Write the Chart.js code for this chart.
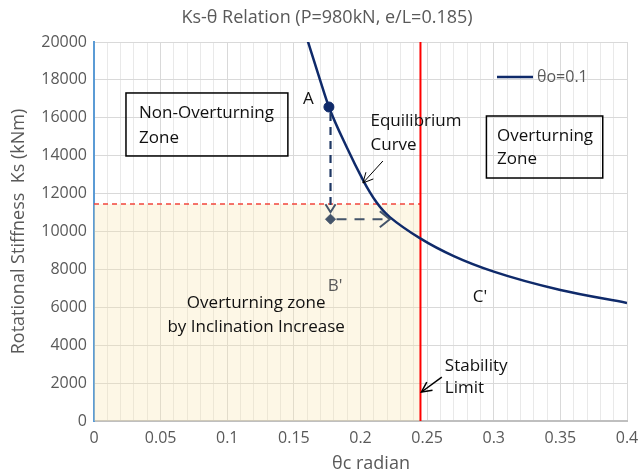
<!DOCTYPE html>
<html>
<head>
<meta charset="utf-8">
<script src="https://cdn.jsdelivr.net/npm/chart.js@4.4.1/dist/chart.umd.min.js"></script>
<style>
  html, body { margin: 0; padding: 0; background: #fff; }
</style>
</head>
<body>
<canvas id="myChart" width="640" height="475"></canvas>
<script>
// Equilibrium curve for theta_o = 0.1
var thetaC = [0.16, 0.1695, 0.1763, 0.1895, 0.202, 0.207, 0.212, 0.217, 0.222, 0.2445, 0.27, 0.3, 0.35, 0.4];
var ksCurve = [20150, 18030, 16570, 14470, 12700, 12080, 11540, 11100, 10760, 9650, 8700, 7880, 6910, 6230];

// Point A on the curve and the point B it drops to
var pointA = [0.1763, 16570];
var pointB = [0.1775, 10650];
var arrowEndTheta = 0.222;

// Stability limit and the stiffness where it meets the curve
var limitTheta = 0.245;
var criticalKs = 11450;

var xTickLabels = ['0', '0.05', '0.1', '0.15', '0.2', '0.25', '0.3', '0.35', '0.4'];
var yTickLabels = ['0', '2000', '4000', '6000', '8000', '10000', '12000', '14000', '16000', '18000', '20000'];

var FONT = "'Open Sans', sans-serif";
var GREY = '#595959';
var NAVY = '#0f2a6a';

function pts(xs, ys) {
    return xs.map(function (v, i) { return { x: v, y: ys[i] }; });
}

// hundredths of theta, so 0.05 steps can be picked out
function hundredths(v) { return Math.round(v * 100); }

function chevron(ctx, tx, ty, dx, dy, len, half) {
    // open arrow head pointing along (dx, dy), tip at (tx, ty)
    var n = Math.sqrt(dx * dx + dy * dy);
    var ux = dx / n, uy = dy / n;
    ctx.beginPath();
    ctx.moveTo(tx - ux * len - uy * half, ty - uy * len + ux * half);
    ctx.lineTo(tx, ty);
    ctx.lineTo(tx - ux * len + uy * half, ty - uy * len - ux * half);
    ctx.stroke();
}

var annotations = {
    id: 'annotations',
    afterDatasetsDraw: function (chart) {
        var ctx = chart.ctx;
        var x = chart.scales.x, y = chart.scales.y;
        var px = function (v) { return x.getPixelForValue(v); };
        var py = function (v) { return y.getPixelForValue(v); };
        ctx.save();

        // dashed drop from A down to B
        ctx.strokeStyle = '#1f3864';
        ctx.lineWidth = 2.2;
        ctx.setLineDash([8, 6]);
        ctx.beginPath();
        ctx.moveTo(px(pointB[0]), py(pointA[1]) + 6);
        ctx.lineTo(px(pointB[0]), py(pointB[1]) - 8);
        ctx.stroke();
        ctx.setLineDash([]);
        ctx.strokeStyle = '#44546a';
        ctx.lineWidth = 2;
        chevron(ctx, px(pointB[0]), py(pointB[1]) - 7, 0, 1, 8, 5);

        // dashed push from B towards the curve
        ctx.setLineDash([10, 8]);
        ctx.beginPath();
        ctx.moveTo(px(pointB[0]) + 6, py(pointB[1]));
        ctx.lineTo(px(arrowEndTheta), py(pointB[1]));
        ctx.stroke();
        ctx.setLineDash([]);
        chevron(ctx, px(arrowEndTheta), py(pointB[1]), 1, 0, 10, 8);

        // thin pointer arrows
        ctx.strokeStyle = '#000';
        ctx.lineWidth = 1;
        ctx.beginPath();
        ctx.moveTo(px(0.2168), py(13720));
        ctx.lineTo(px(0.2018), py(12560));
        ctx.stroke();
        chevron(ctx, px(0.2018), py(12560), px(0.2018) - px(0.2168), py(12560) - py(13720), 10, 5);
        ctx.lineWidth = 1.5;
        ctx.beginPath();
        ctx.moveTo(px(0.261), py(2320));
        ctx.lineTo(px(limitTheta) + 1, py(1530));
        ctx.stroke();
        chevron(ctx, px(limitTheta) + 1, py(1530), px(limitTheta) - px(0.261), py(1530) - py(2320), 10, 5);

        // zone boxes
        ctx.lineWidth = 1.5;
        ctx.strokeStyle = '#000';
        ctx.strokeRect(px(0.024), py(17310), px(0.1455) - px(0.024), py(13985) - py(17310));
        ctx.strokeRect(px(0.2945), py(16095), px(0.3818) - px(0.2945), py(12823) - py(16095));

        // notes
        ctx.font = '17px ' + FONT;
        ctx.textBaseline = 'alphabetic';
        ctx.fillStyle = '#111';
        ctx.textAlign = 'left';
        var note = function (lines, tx, ty, gap) {
            lines.forEach(function (s, i) { ctx.fillText(s, px(tx), py(ty) + i * gap); });
        };
        note(['Non-Overturning', 'Zone'], 0.0338, 15990, 25);
        note(['Overturning', 'Zone'], 0.3025, 14775, 23);
        note(['Equilibrium', 'Curve'], 0.2075, 15570, 24);
        note(['Stability', 'Limit'], 0.2633, 2660, 22);
        note(['A'], 0.1568, 16725, 0);
        note(["C'"], 0.2843, 6280, 0);
        ctx.fillStyle = GREY;
        note(["B'"], 0.1755, 6860, 0);
        ctx.fillStyle = '#111';
        ctx.textAlign = 'center';
        note(['Overturning zone', 'by Inclination Increase'], 0.1217, 5963, 23.5);

        // legend for the curve
        ctx.strokeStyle = NAVY;
        ctx.lineWidth = 2.5;
        ctx.beginPath();
        ctx.moveTo(497, 77);
        ctx.lineTo(533, 77);
        ctx.stroke();
        ctx.font = '16px ' + FONT;
        ctx.fillStyle = GREY;
        ctx.textAlign = 'left';
        ctx.textBaseline = 'middle';
        ctx.fillText('\u03b8o=0.1', 537, 77);

        ctx.restore();
    },
    afterDraw: function (chart) {
        var ctx = chart.ctx;
        var a = chart.chartArea;
        ctx.save();
        ctx.fillStyle = GREY;
        ctx.textAlign = 'center';
        ctx.textBaseline = 'middle';
        ctx.font = '18px ' + FONT;
        ctx.fillText('Ks-\u03b8 Relation (P=980kN, e/L=0.185)', 327, 18);
        ctx.fillText('\u03b8c radian', 371, 464);
        ctx.translate(19, (a.top + a.bottom) / 2);
        ctx.rotate(-Math.PI / 2);
        ctx.fillText('Rotational Stiffness  Ks (kNm)', 0, 0);
        ctx.restore();
    }
};

Chart.defaults.font.family = FONT;

var ctx = document.getElementById('myChart');

new Chart(ctx, {
    type: 'line',
    data: {
        datasets: [{
            // theta_o = 0.1 curve
            data: pts(thetaC, ksCurve),
            borderColor: NAVY,
            borderWidth: 2.5,
            pointRadius: 0,
            cubicInterpolationMode: 'monotone',
            fill: false,
            clip: 0,
            order: 3
        }, {
            data: [{ x: pointA[0], y: pointA[1] }],
            showLine: false,
            pointRadius: 5,
            pointBackgroundColor: NAVY,
            pointBorderColor: NAVY,
            order: 1
        }, {
            data: [{ x: pointB[0], y: pointB[1] }],
            showLine: false,
            pointStyle: 'rectRot',
            pointRadius: 5,
            pointBackgroundColor: '#44546a',
            pointBorderColor: '#44546a',
            order: 1
        }, {
            // critical stiffness line and the shaded zone under it
            data: [{ x: 0, y: criticalKs }, { x: limitTheta, y: criticalKs }],
            borderColor: '#f2463c',
            borderWidth: 1.5,
            borderDash: [5, 4],
            pointRadius: 0,
            fill: 'origin',
            backgroundColor: 'rgba(250,228,172,0.3)',
            order: 6
        }, {
            // stability limit
            data: [{ x: limitTheta, y: 0 }, { x: limitTheta, y: 20000 }],
            borderColor: '#ff0000',
            borderWidth: 2,
            pointRadius: 0,
            fill: false,
            order: 5
        }]
    },
    options: {
        responsive: false,
        animation: false,
        layout: { padding: { top: 42, right: 13, left: 0, bottom: 0 } },
        plugins: {
            legend: { display: false },
            tooltip: { enabled: false },
            title: { display: false }
        },
        scales: {
            x: {
                type: 'linear',
                min: 0,
                max: 0.4,
                afterFit: function (s) {
                    s.height = 54;
                    s.paddingLeft = 0;
                    s.paddingRight = 0;
                },
                border: { color: '#bfbfbf', width: 2 },
                grid: {
                    drawTicks: false,
                    color: function (c) {
                        return c.tick && hundredths(c.tick.value) % 5 === 0 ? '#d9d9d9' : '#e9e9e9';
                    }
                },
                ticks: {
                    stepSize: 0.01,
                    maxTicksLimit: 100,
                    autoSkip: false,
                    maxRotation: 0,
                    padding: 8,
                    color: GREY,
                    font: { size: 16 },
                    callback: function (v) {
                        var h = hundredths(v);
                        return h % 5 === 0 ? xTickLabels[h / 5] : '';
                    }
                }
            },
            y: {
                min: 0,
                max: 20000,
                afterFit: function (s) { s.width = 94; },
                border: { color: '#5b9bd5', width: 2 },
                grid: { drawTicks: false, color: '#d9d9d9' },
                ticks: {
                    stepSize: 2000,
                    padding: 7,
                    color: GREY,
                    font: { size: 16 },
                    callback: function (v) { return yTickLabels[Math.round(v / 2000)]; }
                }
            }
        }
    },
    plugins: [annotations]
});
</script>
</body>
</html>
